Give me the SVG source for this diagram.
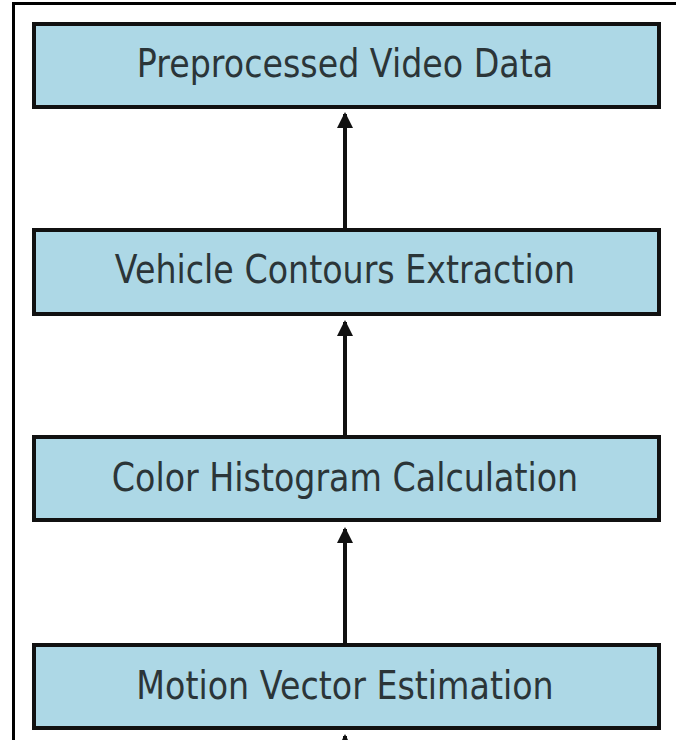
<svg xmlns="http://www.w3.org/2000/svg" width="676" height="740" viewBox="0 0 676 740">
  <style>
    .frame { fill: none; stroke: #000; stroke-width: 3; }
    .box { fill: #add8e6; stroke: #111; stroke-width: 4; }
    .label { font-family: "DejaVu Sans", "Liberation Sans", sans-serif; font-size: 33.3px; fill: #2b3538; text-anchor: middle; }
    .edge { stroke: #111; stroke-width: 4; fill: none; marker-end: url(#head); }
  </style>
  <defs>
    <marker id="head" viewBox="0 0 16 16" refX="14" refY="8" markerWidth="16" markerHeight="16" markerUnits="userSpaceOnUse" orient="auto">
      <path d="M0,0 L16,8 L0,16 Z" fill="#111"/>
    </marker>
  </defs>

  <rect width="676" height="740" fill="#fff"/>
  <!-- outer frame: top and left edges -->
  <path class="frame" d="M13.5,740 V3.5 H676"/>

  <g id="connectors">
    <line class="edge" x1="345" y1="229" x2="345" y2="114"/>
    <line class="edge" x1="345" y1="436" x2="345" y2="322"/>
    <line class="edge" x1="345" y1="644" x2="345" y2="529"/>
    <line class="edge" x1="345" y1="760" x2="345" y2="736"/>
  </g>

  <g id="preprocessed-video-data">
    <rect class="box" x="34" y="24" width="625" height="83"/>
    <text class="label" transform="translate(345,77) scale(1,1.18)">Preprocessed Video Data</text>
  </g>
  <g id="vehicle-contours-extraction">
    <rect class="box" x="34" y="230" width="625" height="84"/>
    <text class="label" transform="translate(345,283) scale(1,1.18)">Vehicle Contours Extraction</text>
  </g>
  <g id="color-histogram-calculation">
    <rect class="box" x="34" y="437" width="625" height="83"/>
    <text class="label" transform="translate(345,491) scale(1,1.18)">Color Histogram Calculation</text>
  </g>
  <g id="motion-vector-estimation">
    <rect class="box" x="34" y="645" width="625" height="83"/>
    <text class="label" transform="translate(345,699) scale(1,1.18)">Motion Vector Estimation</text>
  </g>
</svg>
